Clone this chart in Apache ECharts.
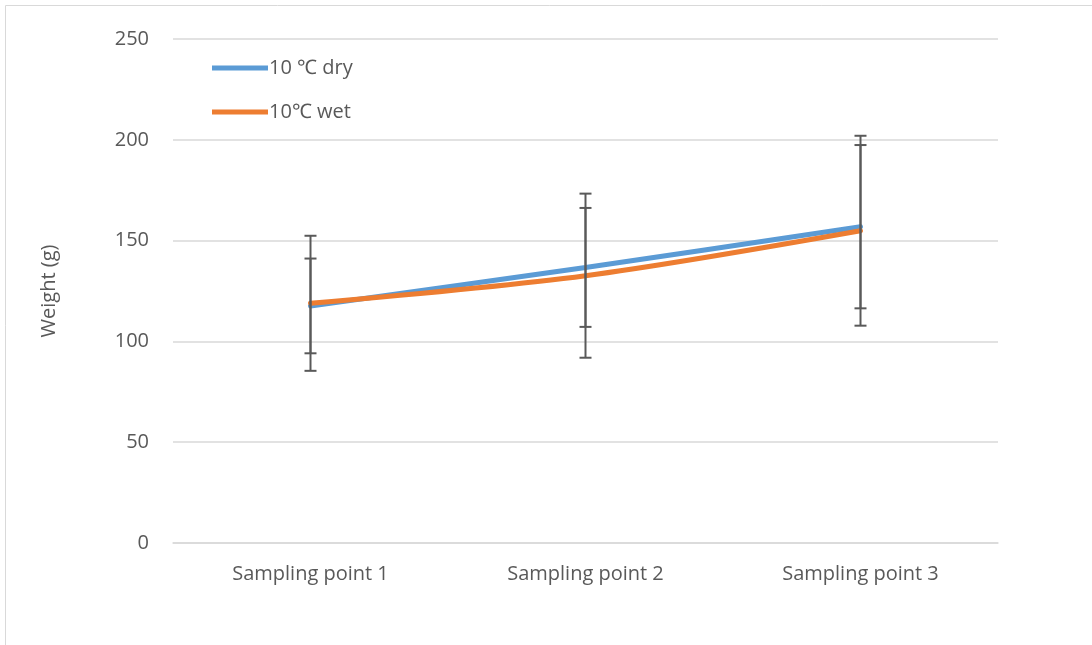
<!DOCTYPE html>
<html><head><meta charset="utf-8">
<script src="https://cdn.jsdelivr.net/npm/echarts@6/dist/echarts.min.js"></script>
<style>html,body{margin:0;padding:0;background:#fff}#c{width:1092px;height:645px}</style>
</head><body><div id="c"></div>
<script>
const categories = ['Sampling point 1', 'Sampling point 2', 'Sampling point 3'];
const dryMean = [117.6, 136.7, 156.9];
const dryErr = [23.5, 29.5, 40.5];
const wetMean = [118.9, 132.6, 154.9];
const wetErr = [33.5, 40.7, 47.1];
const seriesNames = ['10 \u2103 dry', '10\u2103 wet'];
const yTicks = [0, 50, 100, 150, 200, 250];

const FONT = 'Open Sans';
const TXT = '#595959';

function errData(mean, err) {
  return mean.map((m, i) => [i, m - err[i], m + err[i]]);
}
function renderErr(params, api) {
  const x = api.value(0);
  const lo = api.coord([x, api.value(1)]);
  const hi = api.coord([x, api.value(2)]);
  const w = 6;
  const st = { stroke: '#595959', lineWidth: 2 };
  return {
    type: 'group',
    children: [
      { type: 'line', shape: { x1: lo[0], y1: lo[1], x2: hi[0], y2: hi[1] }, style: st },
      { type: 'line', shape: { x1: lo[0] - w, y1: lo[1], x2: lo[0] + w, y2: lo[1] }, style: st },
      { type: 'line', shape: { x1: hi[0] - w, y1: hi[1], x2: hi[0] + w, y2: hi[1] }, style: st }
    ]
  };
}

const chart = echarts.init(document.getElementById('c'), null, { renderer: 'canvas' });
chart.setOption({
  animation: false,
  graphic: [{
    type: 'rect', shape: { x: 5.5, y: 5.5, width: 1200, height: 800 },
    style: { fill: 'none', stroke: '#d9d9d9', lineWidth: 1 }, silent: true, z: -10
  }],
  grid: { left: 173, right: 94, top: 39, bottom: 102 },
  legend: {
    left: 207, top: 53, orient: 'vertical', itemGap: 24,
    itemWidth: 56, itemHeight: 20,
    textStyle: { fontFamily: FONT, fontSize: 20, color: TXT, padding: [0, 0, 0, -4] },
    data: seriesNames.map(n => ({ name: n, icon: 'path://M0,0 L56,0 L56,5 L0,5 Z' }))
  },
  xAxis: {
    type: 'category', data: categories, boundaryGap: true,
    axisLine: { lineStyle: { color: '#d9d9d9', width: 1.5 } },
    axisTick: { show: false },
    axisLabel: { fontFamily: FONT, fontSize: 20, color: TXT, margin: 21 }
  },
  yAxis: {
    type: 'value', min: yTicks[0], max: yTicks[yTicks.length - 1], interval: 50,
    name: 'Weight (g)', nameLocation: 'middle', nameGap: 114, nameRotate: 90,
    nameTextStyle: { fontFamily: FONT, fontSize: 20, color: TXT },
    axisLine: { show: false }, axisTick: { show: false },
    axisLabel: { fontFamily: FONT, fontSize: 20, color: TXT, margin: 24 },
    splitLine: { lineStyle: { color: '#d9d9d9', width: 1.5 } }
  },
  series: [
    {
      name: seriesNames[0], type: 'line', data: dryMean, smooth: 0.3, symbol: 'none',
      lineStyle: { color: '#5b9bd5', width: 5, cap: 'round' }, itemStyle: { color: '#5b9bd5' }, z: 3
    },
    {
      name: seriesNames[1], type: 'line', data: wetMean, smooth: 0.3, symbol: 'none',
      lineStyle: { color: '#ed7d31', width: 5, cap: 'round' }, itemStyle: { color: '#ed7d31' }, z: 4
    },
    { type: 'custom', renderItem: renderErr, data: errData(dryMean, dryErr), z: 5, silent: true },
    { type: 'custom', renderItem: renderErr, data: errData(wetMean, wetErr), z: 5, silent: true }
  ]
});
</script></body></html>
